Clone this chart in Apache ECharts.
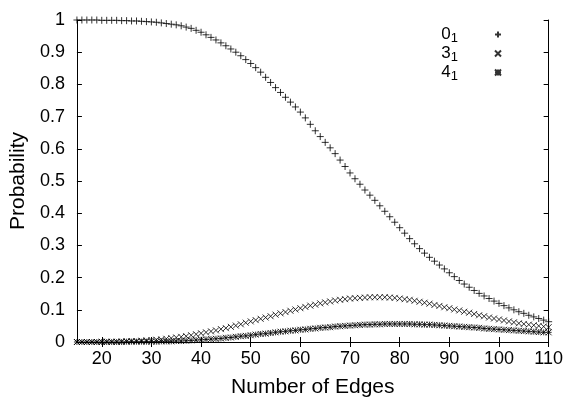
<!DOCTYPE html>
<html>
<head>
<meta charset="UTF-8">
<title>Probability vs Number of Edges</title>
<script src="https://cdn.jsdelivr.net/npm/echarts@6/dist/echarts.min.js"></script>
<style>
	body { margin: 0; background: #fff; }
</style>
</head>
<body>
	<div id='chart' style='width: 566px; height: 403px;'></div>
	<script>
	// number of edges (x)
	var edges = [15,16,17,18,19,20,21,22,23,24,25,26,27,28,29,30,31,32,33,34,35,36,37,38,39,40,
		41,42,43,44,45,46,47,48,49,50,51,52,53,54,55,56,57,58,59,60,61,62,63,64,65,66,67,68,69,70,
		71,72,73,74,75,76,77,78,79,80,81,82,83,84,85,86,87,88,89,90,91,92,93,94,95,96,97,98,99,100,
		101,102,103,104,105,106,107,108,109,110];
	// 0_1
	var p01 = [1.000,1.000,1.000,1.000,1.000,0.999,0.999,0.999,0.999,0.998,0.998,0.997,0.997,0.996,0.995,0.994,
		0.993,0.991,0.989,0.987,0.985,0.982,0.978,0.974,0.968,0.962,0.954,0.946,0.938,0.929,0.920,0.910,0.900,0.889,0.877,0.865,
		0.852,0.838,0.822,0.806,0.790,0.775,0.760,0.745,0.730,0.714,0.696,0.676,0.656,0.638,0.620,0.603,0.585,0.565,0.545,0.525,
		0.507,0.490,0.472,0.456,0.440,0.423,0.406,0.389,0.372,0.355,0.338,0.321,0.305,0.290,0.276,0.263,0.251,0.239,0.227,0.215,
		0.203,0.191,0.180,0.170,0.160,0.151,0.143,0.135,0.127,0.120,0.113,0.106,0.100,0.094,0.089,0.083,0.078,0.073,0.068,0.063];
	// 3_1
	var p31 = [0.000,0.000,0.000,0.000,0.000,0.001,0.001,0.001,0.001,0.002,0.002,0.003,0.003,0.004,0.005,0.006,
		0.007,0.008,0.010,0.012,0.014,0.016,0.018,0.021,0.024,0.027,0.030,0.033,0.036,0.040,0.043,0.047,0.051,0.055,0.060,0.064,
		0.068,0.072,0.076,0.080,0.085,0.089,0.093,0.097,0.101,0.105,0.109,0.113,0.116,0.120,0.123,0.126,0.129,0.131,0.133,0.135,
		0.136,0.137,0.138,0.139,0.139,0.139,0.139,0.138,0.137,0.135,0.133,0.131,0.128,0.125,0.122,0.119,0.115,0.112,0.108,0.105,
		0.101,0.098,0.094,0.091,0.087,0.083,0.080,0.076,0.073,0.070,0.067,0.064,0.061,0.058,0.056,0.054,0.052,0.050,0.048,0.046];
	// 4_1
	var p41 = [0.000,0.000,0.000,0.000,0.000,0.000,0.000,0.000,0.000,0.000,0.001,0.001,0.001,0.001,0.001,0.001,
		0.001,0.002,0.002,0.002,0.003,0.003,0.004,0.005,0.006,0.007,0.008,0.009,0.010,0.011,0.013,0.014,0.016,0.018,0.019,0.021,
		0.023,0.025,0.026,0.028,0.030,0.032,0.033,0.035,0.036,0.038,0.039,0.041,0.042,0.044,0.045,0.046,0.048,0.049,0.050,0.051,
		0.052,0.053,0.054,0.054,0.055,0.055,0.056,0.056,0.056,0.056,0.056,0.056,0.055,0.055,0.054,0.054,0.053,0.052,0.051,0.050,
		0.049,0.048,0.047,0.046,0.045,0.044,0.042,0.041,0.040,0.039,0.038,0.037,0.036,0.035,0.034,0.033,0.032,0.031,0.030,0.030];
	var xTicks = [20,30,40,50,60,70,80,90,100,110];
	var names = ['0_1', '3_1', '4_1'];

	function pairs(ys){
		var out = [];
		for (var i=0; i<edges.length; i++){
			out.push([edges[i], ys[i]]);
		}
		return out;
	}

	// gnuplot-like point symbols (stroked only)
	var plusPath = 'path://M0,5L10,5M5,0L5,10';
	var crossPath = 'path://M0,0L10,10M0,10L10,0';
	var starPath = 'path://M0,0L10,10M0,10L10,0M0,5L10,5M5,0L5,10';

	var font = 'Liberation Sans';
	var black = '#000';
	var tickIn = { show:true, inside:true, length:5, lineStyle:{ color:black, width:1 } };

	var chart = echarts.init(document.getElementById('chart'));
	var option = {
		animation:false,
		backgroundColor:'#fff',
		textStyle:{ fontFamily:font, color:black },
		grid:{ left:59, right:17, top:20, bottom:61 },
		legend:{
			data:names,
			orient:'vertical',
			right:59,
			top:21,
			align:'right',
			itemWidth:70,
			itemHeight:6,
			itemGap:0,
			symbolKeepAspect:true,
			formatter:function(n){
				var p = n.split('_');
				return p[0] + '{sub|' + p[1] + '}';
			},
			textStyle:{
				fontFamily:font,
				fontSize:17,
				color:black,
				rich:{
					sub:{ fontFamily:font, fontSize:13, color:black, padding:[8,0,0,0] }
				}
			}
		},
		xAxis:[
			{
				type:'value',
				min:15,
				max:110,
				position:'bottom',
				name:'Number of Edges',
				nameLocation:'middle',
				nameGap:35,
				nameTextStyle:{ fontFamily:font, fontSize:21, color:black },
				axisLine:{ show:true, lineStyle:{ color:black, width:1 } },
				axisTick:Object.assign({ customValues:xTicks }, tickIn),
				axisLabel:{ customValues:xTicks, fontFamily:font, fontSize:18, color:black, margin:8 },
				splitLine:{ show:false }
			},
			{
				type:'value',
				min:15,
				max:110,
				position:'top',
				axisLine:{ show:true, lineStyle:{ color:black, width:1 } },
				axisTick:Object.assign({ customValues:xTicks }, tickIn),
				axisLabel:{ show:false, customValues:xTicks },
				splitLine:{ show:false }
			}
		],
		yAxis:[
			{
				type:'value',
				min:0,
				max:1,
				interval:0.1,
				position:'left',
				name:'Probability',
				nameLocation:'middle',
				nameGap:31,
				nameTextStyle:{ fontFamily:font, fontSize:21, color:black },
				axisLine:{ show:true, lineStyle:{ color:black, width:1 } },
				axisTick:tickIn,
				axisLabel:{ fontFamily:font, fontSize:18, color:black, margin:12 },
				splitLine:{ show:false }
			},
			{
				type:'value',
				min:0,
				max:1,
				interval:0.1,
				position:'right',
				axisLine:{ show:true, lineStyle:{ color:black, width:1 } },
				axisTick:tickIn,
				axisLabel:{ show:false },
				splitLine:{ show:false }
			}
		],
		series:[
			{
				name:'0_1',
				type:'scatter',
				data:pairs(p01),
				symbol:plusPath,
				symbolSize:7,
				itemStyle:{ color:'transparent', borderColor:black, borderWidth:1 }
			},
			{
				name:'3_1',
				type:'scatter',
				data:pairs(p31),
				symbol:crossPath,
				symbolSize:6,
				itemStyle:{ color:'transparent', borderColor:black, borderWidth:1 }
			},
			{
				name:'4_1',
				type:'scatter',
				data:pairs(p41),
				symbol:starPath,
				symbolSize:6,
				itemStyle:{ color:'transparent', borderColor:black, borderWidth:1 }
			}
		]
	};
	chart.setOption(option);
	</script>
</body>
</html>
